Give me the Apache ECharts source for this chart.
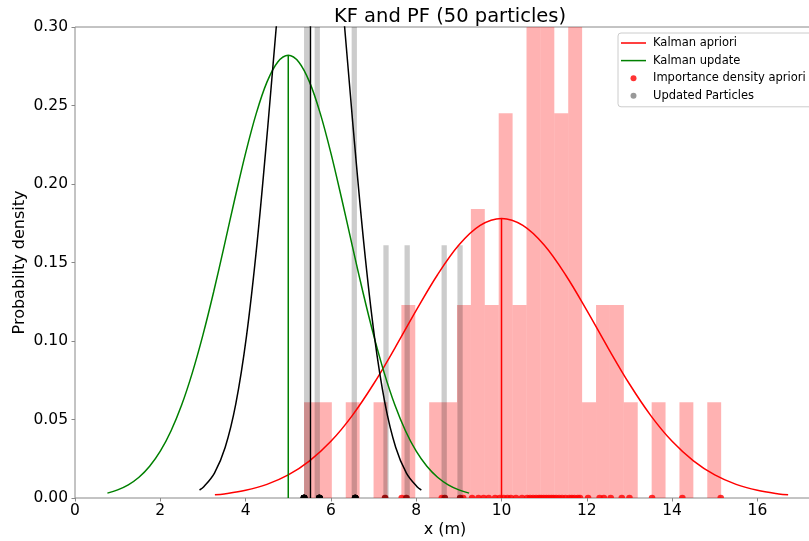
<!DOCTYPE html>
<html><head><meta charset="utf-8">
<script src="https://cdn.jsdelivr.net/npm/echarts@6/dist/echarts.min.js"></script>
<style>html,body{margin:0;padding:0;background:#fff}#c{width:809px;height:541px}</style>
</head><body><div id="c"></div><script>
// ---------- data ----------
const titleText = 'KF and PF (50 particles)';
const yTickLabels = ['0.00','0.05','0.10','0.15','0.20','0.25','0.30'];
const xTickLabels = ['0','2','4','6','8','10','12','14','16'];

// Kalman apriori (red gaussian)
const kalmanAprioriX = [3.28,3.5,4,4.5,5,5.5,6,6.5,7,7.5,8,8.5,9,9.5,10,10.5,11,11.5,12,12.5,13,13.5,14,14.5,15,15.5,16,16.5,16.72];
const kalmanAprioriY = [0.0020,0.0026,0.0049,0.0087,0.0147,0.0237,0.0361,0.0525,0.0726,0.0955,0.1195,0.1422,0.1611,0.1736,0.178,0.1736,0.1611,0.1422,0.1195,0.0955,0.0726,0.0525,0.0361,0.0237,0.0147,0.0087,0.0049,0.0026,0.0020];
const kalmanAprioriMean = 10.0, kalmanAprioriPeak = 0.178;

// Kalman update (green gaussian)
const kalmanUpdateX = [0.76,1,1.25,1.5,1.75,2,2.25,2.5,2.75,3,3.25,3.5,3.75,4,4.25,4.5,4.75,5,5.25,5.5,5.75,6,6.25,6.5,6.75,7,7.25,7.5,7.75,8,8.25,8.5,8.75,9,9.24];
const kalmanUpdateY = [0.0031,0.0052,0.0084,0.0132,0.0202,0.0298,0.0427,0.0592,0.0797,0.1039,0.1312,0.1608,0.1909,0.2197,0.2450,0.2649,0.2776,0.282,0.2776,0.2649,0.2450,0.2197,0.1909,0.1608,0.1312,0.1039,0.0797,0.0592,0.0427,0.0298,0.0202,0.0132,0.0084,0.0052,0.0031];
const kalmanUpdateMean = 5.0, kalmanUpdatePeak = 0.282;

// Particle filter estimate (black gaussian)
const pfEstimateX = [2.92,3.02,3.27,3.52,3.77,4.02,4.27,4.52,4.77,5.02,5.27,5.52,5.77,6.02,6.27,6.52,6.77,7.02,7.27,7.52,7.77,8.02,8.12];
const pfEstimateY = [0.0051,0.0072,0.0159,0.0322,0.0600,0.1030,0.1627,0.2365,0.3164,0.3895,0.4413,0.46,0.4413,0.3895,0.3164,0.2365,0.1627,0.1030,0.0600,0.0322,0.0159,0.0072,0.0051];
const pfEstimateMean = 5.52, pfEstimatePeak = 0.46;

// Importance density apriori samples (red dots)
const importanceSamples = [5.37,5.73,6.57,7.27,7.66,7.77,8.60,8.67,9.03,9.10,
  9.31,9.46,9.58,9.70,9.85,9.96,10.05,10.14,10.22,10.34,10.48,
  10.60,10.67,10.74,10.81,10.88,10.93,10.99,11.05,11.11,11.17,11.22,
  11.28,11.35,11.42,11.50,11.59,11.65,11.71,11.79,11.84,
  12.03,12.30,12.40,12.56,12.82,13.00,13.53,14.24,15.14];

// Updated (resampled) particles (gray dots, duplicates overlap)
const updatedParticles = [5.37,5.37,5.37,5.37,5.37,5.37,5.37,5.37,5.37,5.37,5.37,5.37,5.37,5.37,5.37,5.37,5.37,5.37,
  5.73,5.73,5.73,5.73,5.73,5.73,5.73,5.73,5.73,5.73,5.73,5.73,5.73,5.73,5.73,5.73,
  6.57,6.57,6.57,6.57,6.57,6.57,6.57,6.57,6.57,6.57,6.57,6.57,
  7.27,7.77,8.67,9.03];

// Histogram of importance samples (30 bins)
const redHistStart = 5.37, redHistBinWidth = 0.326;
const redHistDensity = [0.061,0.061,0,0.061,0,0.061,0,0.123,0,0.061,0.061,0.123,0.184,0.123,0.245,0.123,0.307,0.368,0.245,0.307,0.061,0.123,0.123,0.061,0,0.061,0,0.061,0,0.061];

// Histogram of updated particles (30 bins)
const grayHistStart = 5.37, grayHistBinWidth = 0.124;
const grayHistDensity = [2.90,0,2.58,0,0,0,0,0,0,1.94,0,0,0,0,0,0.161,0,0,0,0.161,0,0,0,0,0,0,0.161,0,0,0.161];

// ---------- chart ----------
const pairs = (xs, ys) => xs.map((x, i) => [x, ys[i]]);
const hist = (start, w, dens) => dens.map((h, k) => [start + k * w, start + (k + 1) * w, h]).filter(d => d[2] > 0);

function histRender(params, api) {
  const p0 = api.coord([api.value(0), 0]);
  const p1 = api.coord([api.value(1), api.value(2)]);
  return { type: 'rect', shape: { x: p0[0], y: p1[1], width: p1[0] - p0[0], height: p0[1] - p1[1] },
           style: { fill: api.visual('color') } };
}
function dotRender(params, api) {
  const p = api.coord([api.value(0), api.value(1)]);
  return { type: 'circle', shape: { cx: p[0], cy: p[1], r: 3.3 }, style: { fill: api.visual('color') } };
}

const FONT = 'DejaVu Sans';
const LINE_ICON = 'path://M0,0L25,0L25,1.5L0,1.5Z';
const chart = echarts.init(document.getElementById('c'), null, { renderer: 'canvas' });
chart.setOption({
  animation: false,
  backgroundColor: '#fff',
  title: { text: titleText, left: 445, textAlign: 'center', top: 2,
           textStyle: { fontFamily: FONT, fontSize: 19.5, fontWeight: 'normal', color: '#000' } },
  grid: { left: 75, top: 27, width: 740, height: 471, outerBoundsMode: 'none', containLabel: false,
          show: true, borderColor: '#888', borderWidth: 1, backgroundColor: 'transparent' },
  legend: {
    orient: 'vertical', left: 618, top: 33,
    itemWidth: 25, itemHeight: 6, itemGap: 3.6,
    padding: [3, 8, 4, 3],
    backgroundColor: 'rgba(255,255,255,0.8)', borderColor: '#ccc', borderWidth: 1, borderRadius: 3,
    selectedMode: false,
    textStyle: { fontFamily: FONT, fontSize: 11.5, color: '#000', lineHeight: 14, padding: [0, 0, 0, 2] },
    data: [
      { name: 'Kalman apriori', icon: LINE_ICON },
      { name: 'Kalman update', icon: LINE_ICON },
      { name: 'Importance density apriori', icon: 'circle' },
      { name: 'Updated Particles', icon: 'circle' }
    ]
  },
  xAxis: {
    type: 'value', min: 0, max: 17.35, interval: 2,
    name: 'x (m)', nameLocation: 'middle', nameGap: 24, nameMoveOverlap: false,
    nameTextStyle: { fontFamily: FONT, fontSize: 16, color: '#000' },
    axisLine: { show: false },
    axisTick: { show: true, length: 3.5, lineStyle: { color: '#888' } },
    axisLabel: { fontFamily: FONT, fontSize: 15.5, color: '#000', margin: 5, showMaxLabel: false,
                 formatter: (v) => { const i = Math.round(v / 2); return (Math.abs(v - i * 2) < 1e-6 && xTickLabels[i]) ? xTickLabels[i] : ''; } },
    splitLine: { show: false }
  },
  yAxis: {
    type: 'value', min: 0, max: 0.3, interval: 0.05,
    name: 'Probabilty density', nameLocation: 'middle', nameGap: 47, nameMoveOverlap: false,
    nameTextStyle: { fontFamily: FONT, fontSize: 16, color: '#000' },
    axisLine: { show: false },
    axisTick: { show: true, length: 3.5, lineStyle: { color: '#888' } },
    axisLabel: { fontFamily: FONT, fontSize: 15.5, color: '#000', margin: 7,
                 formatter: (v) => { const i = Math.round(v / 0.05); return yTickLabels[i] || v.toFixed(2); } },
    splitLine: { show: false }
  },
  series: [
    { name: 'apriori histogram', type: 'custom', renderItem: histRender, clip: true, z: 1,
      itemStyle: { color: 'rgba(255,0,0,0.3)' }, encode: { x: [0, 1], y: 2 },
      data: hist(redHistStart, redHistBinWidth, redHistDensity) },
    { name: 'updated histogram', type: 'custom', renderItem: histRender, clip: true, z: 1,
      itemStyle: { color: 'rgba(0,0,0,0.2)' }, encode: { x: [0, 1], y: 2 },
      data: hist(grayHistStart, grayHistBinWidth, grayHistDensity) },
    { name: 'Kalman apriori', type: 'line', symbol: 'none', smooth: 0.35, clip: true, z: 3,
      lineStyle: { color: '#ff0000', width: 1.5 }, itemStyle: { color: '#ff0000' },
      data: pairs(kalmanAprioriX, kalmanAprioriY) },
    { name: 'Kalman update', type: 'line', symbol: 'none', smooth: 0.35, clip: true, z: 3,
      lineStyle: { color: '#008000', width: 1.5 }, itemStyle: { color: '#008000' },
      data: pairs(kalmanUpdateX, kalmanUpdateY) },
    { name: 'PF estimate', type: 'line', symbol: 'none', smooth: 0.35, clip: true, z: 3,
      lineStyle: { color: '#000', width: 1.5 }, itemStyle: { color: '#000' },
      data: pairs(pfEstimateX, pfEstimateY) },
    { name: 'apriori mean', type: 'line', symbol: 'none', clip: true, z: 3,
      lineStyle: { color: '#ff0000', width: 1.5 },
      data: [[kalmanAprioriMean, 0], [kalmanAprioriMean, kalmanAprioriPeak]] },
    { name: 'update mean', type: 'line', symbol: 'none', clip: true, z: 3,
      lineStyle: { color: '#008000', width: 1.5 },
      data: [[kalmanUpdateMean, 0], [kalmanUpdateMean, kalmanUpdatePeak]] },
    { name: 'pf mean', type: 'line', symbol: 'none', clip: true, z: 3,
      lineStyle: { color: '#000', width: 1.5 },
      data: [[pfEstimateMean, 0], [pfEstimateMean, pfEstimatePeak]] },
    { name: 'Importance density apriori', type: 'custom', renderItem: dotRender, clip: true, z: 4,
      itemStyle: { color: 'rgba(255,0,0,0.8)' }, encode: { x: 0, y: 1 },
      data: importanceSamples.map(x => [x, 0]) },
    { name: 'Updated Particles', type: 'custom', renderItem: dotRender, clip: true, z: 4,
      itemStyle: { color: 'rgba(0,0,0,0.4)' }, encode: { x: 0, y: 1 },
      data: updatedParticles.map(x => [x, 0]) }
  ]
});
</script></body></html>
